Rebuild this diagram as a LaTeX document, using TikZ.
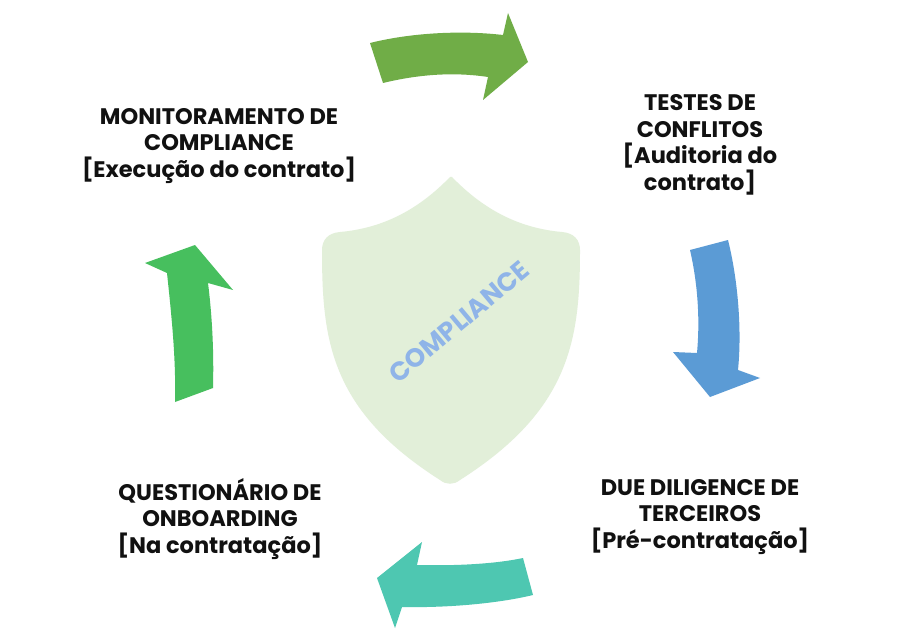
\documentclass[tikz,border=0pt]{standalone}
\usepackage{fontspec}
\setmainfont{Poppins}
\begin{document}
\begin{tikzpicture}[x=1pt,y=-1pt]
\definecolor{shieldc}{HTML}{E2EFD9}
\definecolor{textblue}{HTML}{8FB4E8}
\definecolor{arrtop}{HTML}{70AD47}
\definecolor{arrright}{HTML}{5B9BD5}
\definecolor{arrbottom}{HTML}{4EC7B1}
\definecolor{arrleft}{HTML}{47BF5E}
\definecolor{labc}{HTML}{111111}
\tikzset{lab/.style={align=center, font=\bfseries\fontsize{22.5}{26.5}\selectfont, text=labc, inner sep=0pt}}
\useasboundingbox (0,0) rectangle (902,639);
\fill[white] (0,0) rectangle (902,639);
% shield
\fill[shieldc] (450,177)
  .. controls (420,208) and (385,228) .. (340,232)
  .. controls (328,233) and (322,240) .. (322,250)
  .. controls (322,340) and (330,410) .. (440,480)
  .. controls (446,485) and (454,485) .. (460,480)
  .. controls (570,410) and (580,340) .. (580,250)
  .. controls (580,240) and (574,233) .. (562,232)
  .. controls (517,228) and (482,208) .. (452,177)
  -- cycle;
\node[font=\bfseries\fontsize{26}{26}\selectfont, text=textblue, rotate=40, inner sep=0pt] (comp) at (459,322) {COMPLIANCE};
% top arrow
\fill[arrtop] (370,43) .. controls (410,33) and (460,30) .. (503,35)
  -- (508,13) -- (528,62) -- (483,100) -- (488,77)
  .. controls (455,72) and (420,74) .. (383,83) -- cycle;
% right arrow
\fill[arrright] (690,250) -- (728,240)
  .. controls (738,280) and (742,330) .. (738,370)
  -- (760,378) -- (710,397) -- (673,352) -- (697,353)
  .. controls (700,320) and (698,285) .. (690,250) -- cycle;
% bottom arrow
\fill[arrbottom] (523,558) -- (533,595)
  .. controls (500,603) and (450,608) .. (402,607)
  -- (395,628) -- (377,578) -- (422,542) -- (417,565)
  .. controls (455,566) and (495,564) .. (523,558) -- cycle;
% left arrow
\fill[arrleft] (175,402) -- (213,388)
  .. controls (214,350) and (212,315) .. (208,283)
  -- (233,290) -- (195,245) -- (145,263) -- (167,273)
  .. controls (172,320) and (176,360) .. (175,402) -- cycle;
% labels
\node[lab] (mon) at (219,146) {MONITORAMENTO DE\\COMPLIANCE\\{[}Execução do contrato{]}};
\node[lab] (tes) at (700,145) {TESTES DE\\CONFLITOS\\{[}Auditoria do\\contrato{]}};
\node[lab] (due) at (700,517) {DUE DILIGENCE DE\\TERCEIROS\\{[}Pré-contratação{]}};
\node[lab] (que) at (220,519) {QUESTIONÁRIO DE\\ONBOARDING\\{[}Na contratação{]}};
\end{tikzpicture}
\end{document}
